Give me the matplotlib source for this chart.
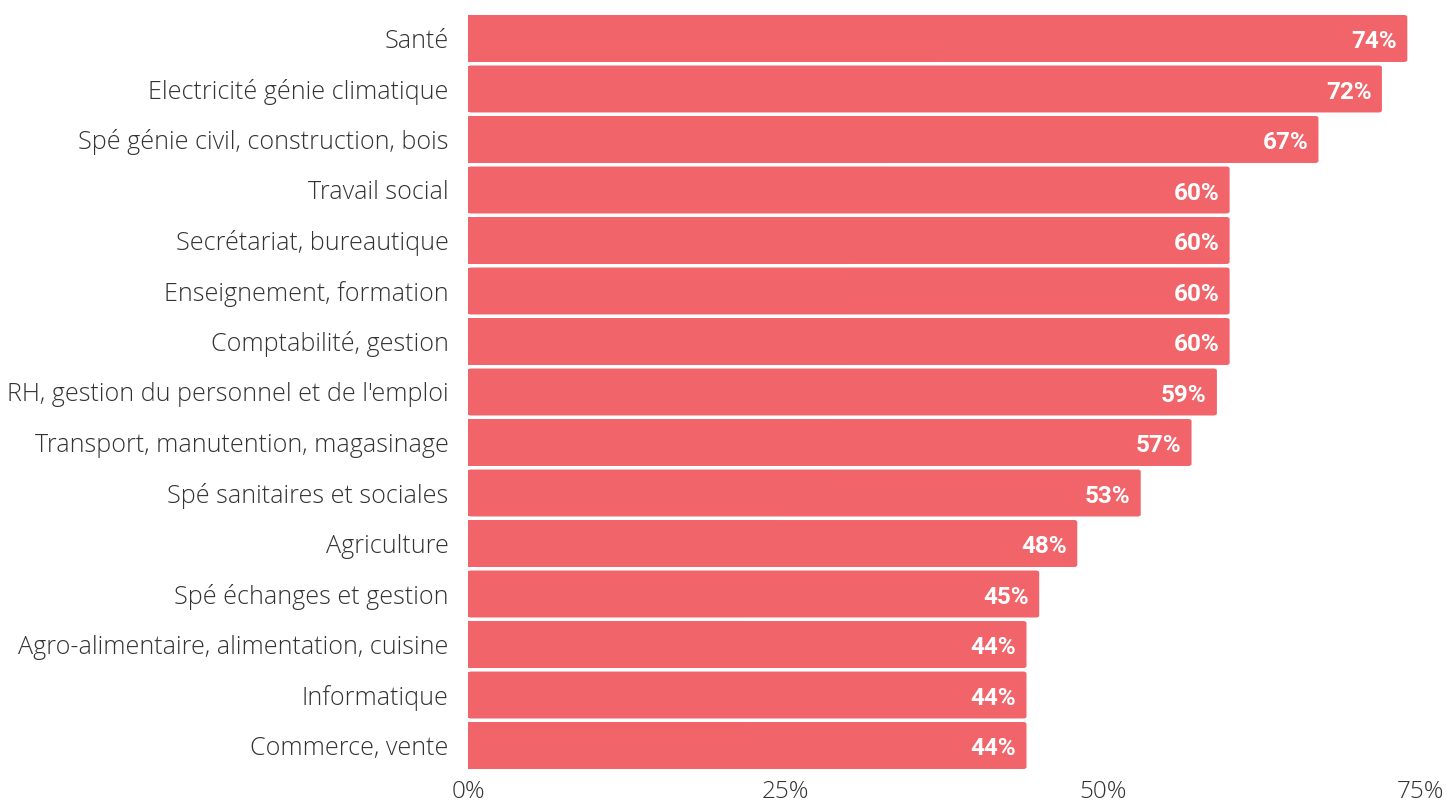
import matplotlib
matplotlib.use("Agg")
from matplotlib import pyplot as plt
from matplotlib.patches import FancyBboxPatch

categories = ["Santé", "Electricité génie climatique", "Spé génie civil, construction, bois",
              "Travail social", "Secrétariat, bureautique", "Enseignement, formation",
              "Comptabilité, gestion", "RH, gestion du personnel et de l'emploi",
              "Transport, manutention, magasinage", "Spé sanitaires et sociales",
              "Agriculture", "Spé échanges et gestion",
              "Agro-alimentaire, alimentation, cuisine", "Informatique", "Commerce, vente"]
values = [74, 72, 67, 60, 60, 60, 60, 59, 57, 53, 48, 45, 44, 44, 44]
xticks = [0, 25, 50, 75]

barColor = "#F0646A"
h = 0.93

fig = plt.figure(figsize=(14.47, 8.07), dpi=100)
ax = fig.add_axes([468/1447, 1-769/807, (1420-468)/1447, (769-15)/807])

n = len(categories)
for i, (cat, v) in enumerate(zip(categories, values)):
    y = n-1-i
    ax.add_patch(FancyBboxPatch((0, y-h/2), v, h, boxstyle="round,pad=0,rounding_size=0.25",
                                mutation_aspect=0.25/1.6, facecolor=barColor, edgecolor="none"))
    ax.add_patch(plt.Rectangle((0, y-h/2), v/2, h, facecolor=barColor, edgecolor="none"))
    ax.text(v-0.8, y-0.06, f"{v}%", ha="right", va="center", color="white",
            fontsize=17.5, fontweight="bold", family="Roboto")

ax.set_xlim(0, 75)
ax.set_ylim(-h/2, n-1+h/2)
ax.set_yticks(range(n))
ax.set_yticklabels(categories[::-1], fontsize=18.1, family="Open Sans", fontweight="light", color="#333333")
ax.set_xticks(xticks)
ax.set_xticklabels([f"{t}%" for t in xticks], fontsize=17.5, family="Open Sans", fontweight="light", color="#333333")
ax.tick_params(length=0)
ax.tick_params(axis="y", pad=14)
ax.tick_params(axis="x", pad=8)
for s in ax.spines.values():
    s.set_visible(False)

fig.savefig("out.png", dpi=100)
